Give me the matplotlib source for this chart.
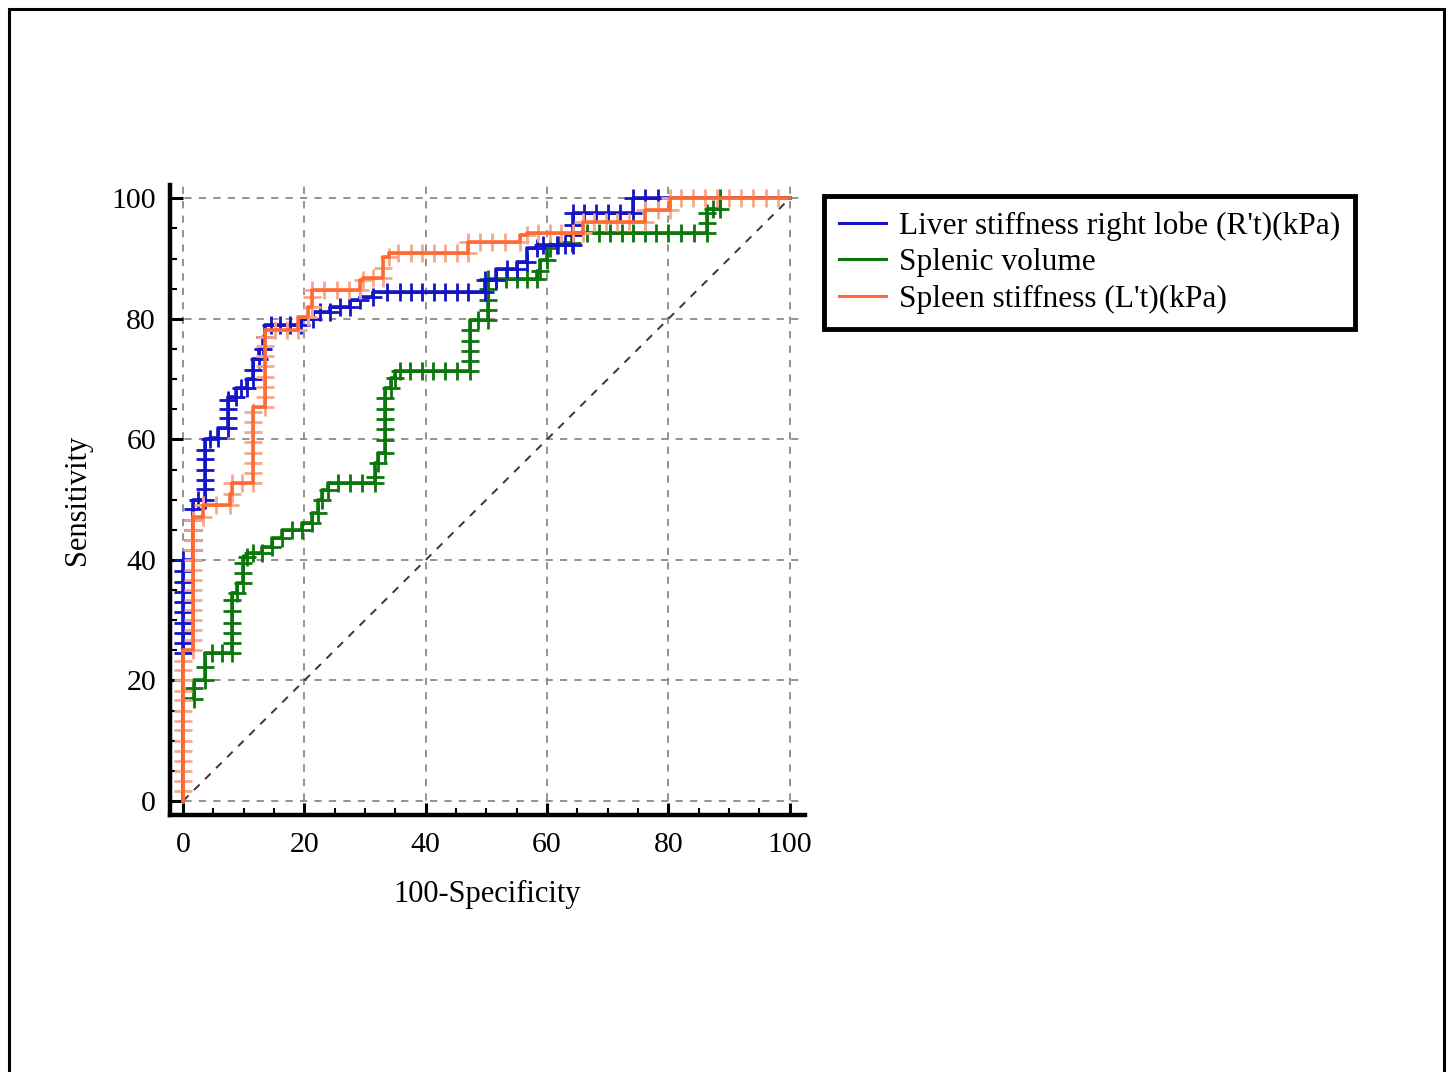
import matplotlib
matplotlib.use("Agg")
import matplotlib.pyplot as plt
from matplotlib.lines import Line2D
from matplotlib.patches import Rectangle

plt.rcParams['font.family'] = ['Liberation Serif', 'DejaVu Serif']

# ---------------- data ----------------
series_names = ["Liver stiffness right lobe (R't)(kPa)",
                "Splenic volume",
                "Spleen stiffness (L't)(kPa)"]

liver_x = [0, 0, 0, 0, 0, 0, 0, 0, 0, 0, 0,
           1.6, 1.6, 1.6, 1.6, 1.6, 1.6,
           2.5, 3.6, 3.6, 3.6, 3.6, 3.6, 3.6, 4.5, 5.8, 7.4, 7.4, 7.4, 7.4,
           8.8, 9.5, 10.5, 11.5, 11.5, 12.5, 13.2, 13.5, 14.5, 16.0, 17.6,
           19.5, 21.4, 22.6, 24.3, 25.9, 27.6, 29.2, 31.3, 33.6, 35.7, 37.5,
           39.4, 41.3, 43.2, 45.1, 47.0, 49.8, 49.8, 51.5, 53.4, 55.0, 56.7,
           58.3, 59.3, 61.6, 63.0, 64.3, 64.3, 64.3, 64.3, 66.0, 68.0, 70.0,
           72.0, 74.1, 74.1, 76.2, 78.3, 100]
liver_y = [0, 24.5, 26.2, 27.9, 29.6, 31.3, 33.0, 34.7, 36.4, 38.1, 40.0,
           40.0, 41.7, 43.3, 45.0, 46.7, 48.5,
           50.0, 50.0, 51.7, 53.3, 55.0, 56.7, 58.3, 60.0, 60.2, 61.9, 63.5, 65.0, 66.5,
           67.0, 68.5, 68.5, 70.0, 71.5, 73.3, 75.0, 77.0, 79.0, 79.0, 79.0,
           79.0, 80.0, 81.1, 81.1, 81.9, 81.9, 83.1, 83.6, 84.4, 84.4, 84.4,
           84.4, 84.4, 84.4, 84.4, 84.4, 84.4, 86.4, 86.4, 88.3, 88.3, 89.5,
           91.7, 92.2, 92.2, 92.2, 92.2, 93.9, 95.6, 97.5, 97.5, 97.5, 97.5,
           97.5, 97.5, 100, 100, 100, 100]

spleen_vol_x = [0, 1.8, 1.8, 3.6, 3.6, 4.8, 6.4, 8.1, 8.1, 8.1, 8.1, 8.1, 8.1,
                8.9, 9.9, 9.9, 9.9, 10.5, 11.5, 13.0, 14.7, 16.3, 18.0, 19.6,
                21.3, 22.2, 22.9, 23.9, 25.5, 27.5, 29.5, 31.6, 31.6, 32.1, 33.3,
                33.3, 33.3, 33.3, 33.3, 33.3, 34.2, 35.0, 35.7, 37.4, 39.4, 41.2,
                43.2, 45.1, 47.3, 47.3, 47.3, 47.3, 47.3, 48.6, 50.2, 50.2, 50.2,
                50.2, 50.2, 51.5, 53.2, 55.0, 56.7, 58.3, 58.8, 60.0, 60.5, 61.8,
                64.1, 66.6, 68.5, 70.4, 72.3, 74.2, 76.1, 78.0, 80.0, 82.0, 84.2,
                86.3, 86.3, 86.3, 87.3, 88.5, 88.5, 100]
spleen_vol_y = [0, 17.0, 18.7, 20.1, 22.2, 24.5, 24.5, 24.5, 26.2, 27.9, 29.6, 31.5, 33.3,
                34.5, 36.2, 37.9, 39.5, 40.5, 41.1, 41.1, 42.1, 43.6, 45.0, 45.0,
                46.1, 47.8, 49.9, 51.6, 52.7, 52.7, 52.7, 52.7, 53.7, 56.0, 57.7,
                59.9, 61.7, 63.4, 65.1, 66.8, 68.5, 70.2, 71.3, 71.3, 71.3, 71.3,
                71.3, 71.3, 71.3, 73.0, 74.7, 76.4, 78.1, 79.8, 79.8, 81.5, 83.2,
                84.9, 86.6, 86.6, 86.6, 86.6, 86.6, 86.6, 88.0, 89.7, 91.7, 92.2,
                92.5, 94.2, 94.2, 94.2, 94.2, 94.2, 94.2, 94.2, 94.2, 94.2, 94.2,
                94.2, 95.9, 97.5, 98.3, 98.3, 100, 100]

spleen_st_x = [0, 0, 0, 0, 0, 0, 0, 0, 0, 0, 0, 0, 0, 0, 0,
               1.6, 1.6, 1.6, 1.6, 1.6, 1.6, 1.6, 1.6, 1.6, 1.6, 1.6, 1.6, 1.6, 1.6,
               3.3, 3.3, 5.5, 7.7, 8.1, 8.1, 9.8, 11.5, 11.5, 11.5, 11.5, 11.5,
               11.5, 11.5, 11.5, 13.5, 13.5, 13.5, 13.5, 13.5, 13.5, 13.5, 13.5,
               15.2, 17.1, 19.0, 20.6, 21.3, 21.3, 21.3, 23.3, 25.4, 27.3, 29.2,
               29.7, 31.3, 33.0, 33.0, 34.0, 35.5, 37.5, 39.4, 41.3, 43.2, 45.1,
               47.0, 47.0, 49.0, 51.0, 53.0, 55.5, 56.7, 58.5, 60.4, 62.3, 64.2,
               65.9, 65.9, 67.8, 69.7, 71.6, 73.5, 76.1, 76.1, 78.2, 80.2, 80.2,
               82.1, 84.0, 86.0, 88.0, 90.0, 92.0, 94.0, 96.0, 98.0, 100]
spleen_st_y = [0, 1.7, 3.3, 5.0, 6.7, 8.3, 10.0, 11.7, 13.3, 15.0, 16.7, 18.3, 20.0, 21.7, 23.3,
               25.0, 26.7, 28.3, 30.0, 31.7, 33.3, 35.0, 36.7, 38.3, 40.0, 41.7, 43.3, 45.0, 46.7,
               47.1, 49.1, 49.1, 49.1, 50.9, 52.7, 52.7, 52.7, 54.4, 56.1, 57.8, 59.5,
               61.2, 62.9, 64.6, 65.3, 67.0, 68.7, 70.4, 72.1, 73.8, 75.5, 77.0,
               78.1, 78.1, 78.1, 80.3, 82.0, 83.6, 84.7, 84.7, 84.7, 84.7, 84.7,
               86.4, 86.7, 86.7, 88.4, 90.2, 91.0, 91.0, 91.0, 91.0, 91.0, 91.0,
               91.0, 92.7, 92.7, 92.7, 92.7, 92.7, 93.9, 94.2, 94.2, 94.2, 94.2,
               94.2, 96.0, 96.0, 96.0, 96.0, 96.0, 96.0, 98.0, 98.0, 98.0, 100,
               100, 100, 100, 100, 100, 100, 100, 100, 100, 100]

diag = [0, 100]
ticks = [0, 20, 40, 60, 80, 100]

# ---------------- figure ----------------
fig = plt.figure(figsize=(14.52, 10.72), dpi=100)
ax = fig.add_axes([170 / 1452, 1 - 815 / 1072, (805 - 170) / 1452, (815 - 185) / 1072])

ax.set_xlim(-2.14, 102.5)
ax.set_ylim(-2.32, 102.2)

for v in ticks:
    ax.axvline(v, color='#8a8a8a', lw=1.3, ls=(0, (4, 4)), zorder=1)
    ax.axhline(v, color='#8a8a8a', lw=1.3, ls=(0, (4, 4)), zorder=1)

ax.plot(diag, diag, color='#4a2f2f', lw=1.4, ls=(0, (4, 4)), zorder=2)

colors = ['#1414c8', '#0b760b', '#ff6a33']
mcolors = ['#1414c8', '#0b760b', '#f6a88c']
data = [(spleen_vol_x, spleen_vol_y, 1), (liver_x, liver_y, 0), (spleen_st_x, spleen_st_y, 2)]
for k, (xs, ys, i) in enumerate(data):
    ax.plot(xs[1:-1], ys[1:-1], ls='none', marker='+', ms=13, mew=2.0,
            color=mcolors[i], zorder=3 + k * 0.2)
    ax.plot(xs, ys, drawstyle='steps-pre', color=colors[i], lw=2.6, zorder=3.1 + k * 0.2)

for s in ['top', 'right']:
    ax.spines[s].set_visible(False)
for s in ['left', 'bottom']:
    ax.spines[s].set_linewidth(3.2)
    ax.spines[s].set_color('black')

ax.set_xticks(ticks)
ax.set_yticks(ticks)
ax.set_xticks(range(0, 101, 5), minor=True)
ax.set_yticks(range(0, 101, 5), minor=True)
ax.tick_params(which='major', direction='in', length=9, width=2.2, labelsize=21.5, pad=12)
ax.tick_params(which='minor', direction='in', length=5, width=1.5)
ax.tick_params(axis='y', pad=10)

ax.set_xlabel('100-Specificity', fontsize=22, labelpad=16)
ax.set_ylabel('Sensitivity', fontsize=22, labelpad=14)

handles = [Line2D([0], [0], color=c, lw=2.2) for c in colors]
leg = fig.legend(handles, series_names, loc='upper left',
                 bbox_to_anchor=(824 / 1452, 1 - 196 / 1072),
                 fontsize=22.6, frameon=True, fancybox=False, framealpha=1,
                 borderpad=0.48, handlelength=1.5, handletextpad=0.4,
                 labelspacing=0.24, borderaxespad=0)
leg.get_frame().set_edgecolor('black')
leg.get_frame().set_linewidth(3.5)

# outer border of the picture
fig.patches.append(Rectangle((9 / 1452, -0.05), (1444 - 9) / 1452, 1.05 - 9 / 1072,
                             transform=fig.transFigure, fill=False,
                             edgecolor='black', lw=2.2))

fig.savefig('out.png', dpi=100)
